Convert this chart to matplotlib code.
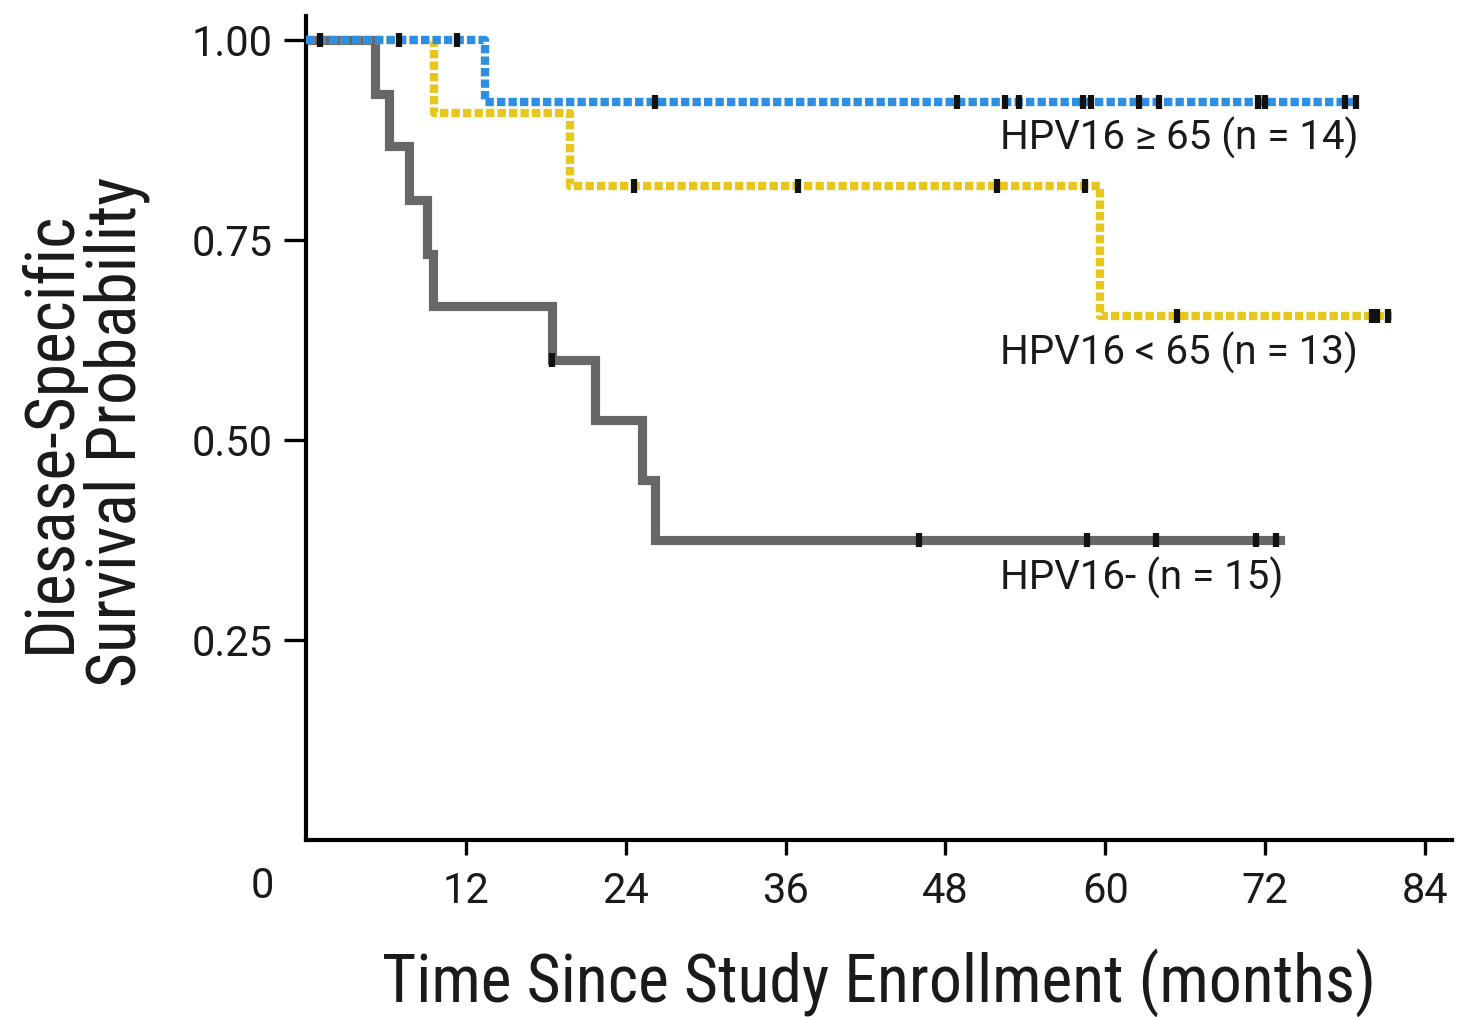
import matplotlib
matplotlib.use('Agg')

import numpy as np
import matplotlib.pyplot as plt
from matplotlib import font_manager

# Kaplan-Meier curves (time in months)
# HPV16 >= 65 (n = 14)
hi_event_t = [13.4]
hi_event_s = [0.923]
hi_censor = [1.05, 7.0, 11.3, 26.2, 48.9, 52.5, 53.5, 58.3, 58.9, 62.5, 64.0,
             71.5, 72.0, 78.0, 78.8]
hi_end = 78.9

# HPV16 < 65 (n = 13)
lo_event_t = [9.6, 19.8, 59.6]
lo_event_s = [0.909, 0.818, 0.655]
lo_censor = [24.6, 36.9, 51.9, 58.5, 65.4, 80.0, 80.4, 81.2]
lo_end = 81.5

# HPV16- (n = 15)
neg_event_t = [5.2, 6.2, 7.7, 9.1, 9.5, 18.5, 21.7, 25.2, 26.2]
neg_event_s = [0.933, 0.867, 0.800, 0.733, 0.667, 0.600, 0.525, 0.450, 0.375]
neg_censor = [18.5, 46.0, 58.6, 63.8, 71.3, 72.8]
neg_end = 73.1

labels = ['HPV16 \u2265 65 (n = 14)', 'HPV16 < 65 (n = 13)', 'HPV16- (n = 15)']
label_x = [52.1, 52.1, 52.1]
label_y = [0.877, 0.609, 0.328]

x_ticks = [12, 24, 36, 48, 60, 72, 84]
y_ticks = [0.25, 0.50, 0.75, 1.00]

BLUE = '#2e8fe2'
YELLOW = '#e8c61c'
GRAY = '#676767'
INK = '#1a1a1a'

TICK_FONT = ['Roboto', 'DejaVu Sans']


def fonte_condensada():
    """Procura uma fonte estreita instalada; se nao houver, usa Roboto."""
    preferidas = ['Roboto Condensed', 'Liberation Sans Narrow', 'Noto Sans',
                  'Open Sans', 'Roboto', 'DejaVu Sans']
    achadas = {}
    for f in font_manager.fontManager.ttflist:
        estreita = f.stretch in ('condensed', 'semi-condensed', 'extra-condensed') \
            or 'Condensed' in f.name or 'Narrow' in f.name
        if estreita and f.style == 'normal' and f.weight in (400, 'normal', 'regular'):
            achadas.setdefault(f.name, f.fname)
    for nome in preferidas:
        if nome in achadas:
            return font_manager.FontProperties(fname=achadas[nome])
    return font_manager.FontProperties(family=['Roboto', 'DejaVu Sans'])


def ajustar_largura(texto, largura_px, renderer, vertical=False):
    bb = texto.get_window_extent(renderer=renderer)
    atual = bb.height if vertical else bb.width
    texto.set_fontsize(texto.get_fontsize() * largura_px / atual)


def step_xy(event_t, event_s, end):
    x = np.array([0.0] + list(event_t) + [end])
    y = np.array([1.0] + list(event_s) + [event_s[-1]])
    return x, y


def surv_at(t, event_t, event_s):
    idx = np.searchsorted(event_t, t, side='right')
    s = np.concatenate([[1.0], event_s])
    return s[idx]


fig = plt.figure(figsize=(14.59, 10.17), dpi=100)
ax = fig.add_axes([306 / 1459, 177 / 1017, 1145.6 / 1459, 824 / 1017])

curvas = [
    (neg_event_t, neg_event_s, neg_censor, neg_end, GRAY, 'solid'),
    (lo_event_t, lo_event_s, lo_censor, lo_end, YELLOW, 'dashed'),
    (hi_event_t, hi_event_s, hi_censor, hi_end, BLUE, 'dashed'),
]

for ev_t, ev_s, cens, end, cor, estilo in curvas:
    x, y = step_xy(ev_t, ev_s, end)
    if estilo == 'solid':
        ax.step(x, y, where='post', color=cor, linewidth=6.6,
                solid_joinstyle='miter', zorder=2)
    else:
        ln, = ax.step(x, y, where='post', color=cor, linewidth=6.0,
                      dash_capstyle='butt', zorder=3)
        ln.set_dashes((1.0, 0.38))
    cy = surv_at(np.array(cens), np.array(ev_t), np.array(ev_s))
    ax.plot(cens, cy, linestyle='none', marker='|', markersize=10.5,
            markeredgewidth=4.5, color='#111111', zorder=4)

for txt, lx, ly in zip(labels, label_x, label_y):
    ax.text(lx, ly, txt, fontsize=29, family=TICK_FONT, color=INK,
            ha='left', va='center')

ax.set_xlim(0, 86)
ax.set_ylim(0, 1.03)

for lado in ['top', 'right']:
    ax.spines[lado].set_visible(False)
for lado in ['left', 'bottom']:
    ax.spines[lado].set_linewidth(3.0)
    ax.spines[lado].set_color('black')

ax.set_xticks(x_ticks)
ax.set_xticklabels([str(t) for t in x_ticks], fontsize=30, family=TICK_FONT,
                   color=INK)
ax.set_yticks(y_ticks)
ax.set_yticklabels([f'{t:.2f}' for t in y_ticks], fontsize=30, family=TICK_FONT,
                   color=INK)
ax.tick_params(axis='x', length=11, width=2.4, pad=11, direction='out')
ax.tick_params(axis='y', length=16, width=2.4, pad=8, direction='out')

# "0" compartilhado na origem
ax.annotate('0', xy=(0, 0), xycoords='data', xytext=(-44 * 0.72, -47 * 0.72),
            textcoords='offset points', ha='center', va='center',
            fontsize=30, family=TICK_FONT, color=INK)

fp = fonte_condensada()
ylab = fig.text(84 / 1459, 1 - 432 / 1017, 'Diesase-Specific\nSurvival Probability',
                rotation=90, ha='center', va='center', fontproperties=fp,
                fontsize=46, linespacing=1.0, color=INK)
xlab = fig.text(879 / 1459, 1 - 1003 / 1017, 'Time Since Study Enrollment (months)',
                ha='center', va='baseline', fontproperties=fp, fontsize=46,
                color=INK)

# encaixar os rotulos dos eixos na largura da figura original
renderer = fig.canvas.get_renderer()
ajustar_largura(xlab, 992, renderer)
ajustar_largura(ylab, 510, renderer, vertical=True)

fig.savefig('out.png', dpi=100)
